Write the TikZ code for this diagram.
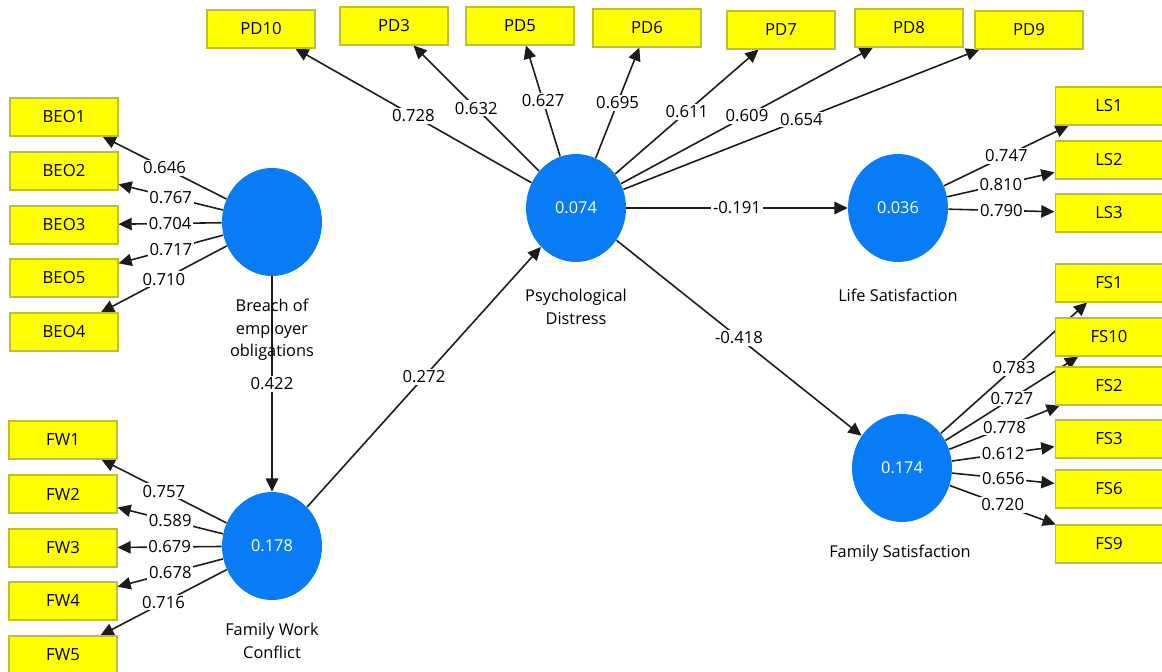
\documentclass[tikz,border=0pt]{standalone}
\usepackage{fontspec}
\setmainfont{Open Sans}
\usetikzlibrary{shapes.geometric,arrows.meta}
\definecolor{lvblue}{RGB}{8,124,245}
\definecolor{boxyellow}{RGB}{255,255,0}
\definecolor{boxedge}{RGB}{190,190,50}
\definecolor{linegray}{RGB}{28,28,28}
\pgfdeclarelayer{paper}
\pgfdeclarelayer{edges}
\pgfsetlayers{paper,edges,main}
\tikzset{
  ind/.style={rectangle,draw=boxedge,line width=0.6pt,fill=boxyellow,minimum width=2.16cm,minimum height=0.76cm,inner sep=0pt,font=\fontsize{9.5}{12}\selectfont},
  lv/.style={ellipse,fill=lvblue,minimum width=2cm,minimum height=2.16cm,inner sep=0pt,text=white,font=\fontsize{9.3}{12}\selectfont},
  lvname/.style={align=center,font=\fontsize{9.3}{12.8}\selectfont,inner sep=0pt},
  conn/.style={draw=linegray,line width=0.9pt,-{Triangle[length=7.5pt,width=7pt]}},
  wlab/.style={fill=white,inner sep=1pt,font=\fontsize{9.5}{12}\selectfont,midway}
}
\begin{document}
\begin{tikzpicture}[x=0.02cm,y=-0.02cm]
\begin{pgfonlayer}{paper}
\fill[white] (0,0) rectangle (1162,672);
\end{pgfonlayer}
\useasboundingbox (0,0) rectangle (1162,672);
% latent variables
\node[lv] (beo) at (272,222) {};
\node[lv] (fwc) at (272,546) {0.178};
\node[lv] (pd) at (576,208) {0.074};
\node[lv] (ls) at (898,208) {0.036};
\node[lv] (fs) at (902,468) {0.174};
\node[lvname] (beoL) at (272,330) {Breach of\\employer\\obligations};
\node[lvname] (fwcL) at (272,641) {Family Work\\Conflict};
\node[lvname] (pdL) at (576,307) {Psychological\\Distress};
\node[lvname] (lsL) at (898,295) {Life Satisfaction};
\node[lvname] (fsL) at (900,553) {Family Satisfaction};
% indicators
\node[ind] (beo1) at (64,117) {BEO1};
\node[ind] (beo2) at (64,171) {BEO2};
\node[ind] (beo3) at (64,225) {BEO3};
\node[ind] (beo5) at (64,278) {BEO5};
\node[ind] (beo4) at (64,332) {BEO4};
\node[ind] (fw1) at (63,440) {FW1};
\node[ind] (fw2) at (63,494) {FW2};
\node[ind] (fw3) at (63,548) {FW3};
\node[ind] (fw4) at (63,601) {FW4};
\node[ind] (fw5) at (63,655) {FW5};
\node[ind] (pd10) at (261,29) {PD10};
\node[ind] (pd3) at (394,26) {PD3};
\node[ind] (pd5) at (520,26) {PD5};
\node[ind] (pd6) at (647,28) {PD6};
\node[ind] (pd7) at (781,30) {PD7};
\node[ind] (pd8) at (909,28) {PD8};
\node[ind] (pd9) at (1029,30) {PD9};
\node[ind] (ls1) at (1109,106) {LS1};
\node[ind] (ls2) at (1109,160) {LS2};
\node[ind] (ls3) at (1109,213) {LS3};
\node[ind] (fs1) at (1109,283) {FS1};
\node[ind] (fs10) at (1109,337) {FS10};
\node[ind] (fs2) at (1109,386) {FS2};
\node[ind] (fs3) at (1109,439) {FS3};
\node[ind] (fs6) at (1109,489) {FS6};
\node[ind] (fs9) at (1109,544) {FS9};
\begin{pgfonlayer}{edges}
% outer loadings BEO
\draw[conn] (beo) -- node[wlab]{0.646} (beo1);
\draw[conn] (beo) -- node[wlab]{0.767} (beo2);
\draw[conn] (beo) -- node[wlab]{0.704} (beo3);
\draw[conn] (beo) -- node[wlab]{0.717} (beo5);
\draw[conn] (beo) -- node[wlab]{0.710} (beo4);
% FW
\draw[conn] (fwc) -- node[wlab]{0.757} (fw1);
\draw[conn] (fwc) -- node[wlab]{0.589} (fw2);
\draw[conn] (fwc) -- node[wlab]{0.679} (fw3);
\draw[conn] (fwc) -- node[wlab]{0.678} (fw4);
\draw[conn] (fwc) -- node[wlab]{0.716} (fw5);
% PD
\draw[conn] (pd) -- node[wlab]{0.728} (pd10);
\draw[conn] (pd) -- node[wlab]{0.632} (pd3);
\draw[conn] (pd) -- node[wlab]{0.627} (pd5);
\draw[conn] (pd) -- node[wlab]{0.695} (pd6);
\draw[conn] (pd) -- node[wlab]{0.611} (pd7);
\draw[conn] (pd) -- node[wlab]{0.609} (pd8);
\draw[conn] (pd) -- node[wlab]{0.654} (pd9);
% LS
\draw[conn] (ls) -- node[wlab]{0.747} (ls1);
\draw[conn] (ls) -- node[wlab]{0.810} (ls2);
\draw[conn] (ls) -- node[wlab]{0.790} (ls3);
% FS
\draw[conn] (fs) -- node[wlab]{0.783} (fs1);
\draw[conn] (fs) -- node[wlab]{0.727} (fs10);
\draw[conn] (fs) -- node[wlab]{0.778} (fs2);
\draw[conn] (fs) -- node[wlab]{0.612} (fs3);
\draw[conn] (fs) -- node[wlab]{0.656} (fs6);
\draw[conn] (fs) -- node[wlab]{0.720} (fs9);
% structural paths
\draw[conn] (beo) -- node[wlab]{0.422} (fwc);
\draw[conn] (fwc) -- node[wlab]{0.272} (pd);
\draw[conn] (pd) -- node[wlab]{-0.191} (ls);
\draw[conn] (pd) -- node[wlab]{-0.418} (fs);
\end{pgfonlayer}
\end{tikzpicture}
\end{document}
